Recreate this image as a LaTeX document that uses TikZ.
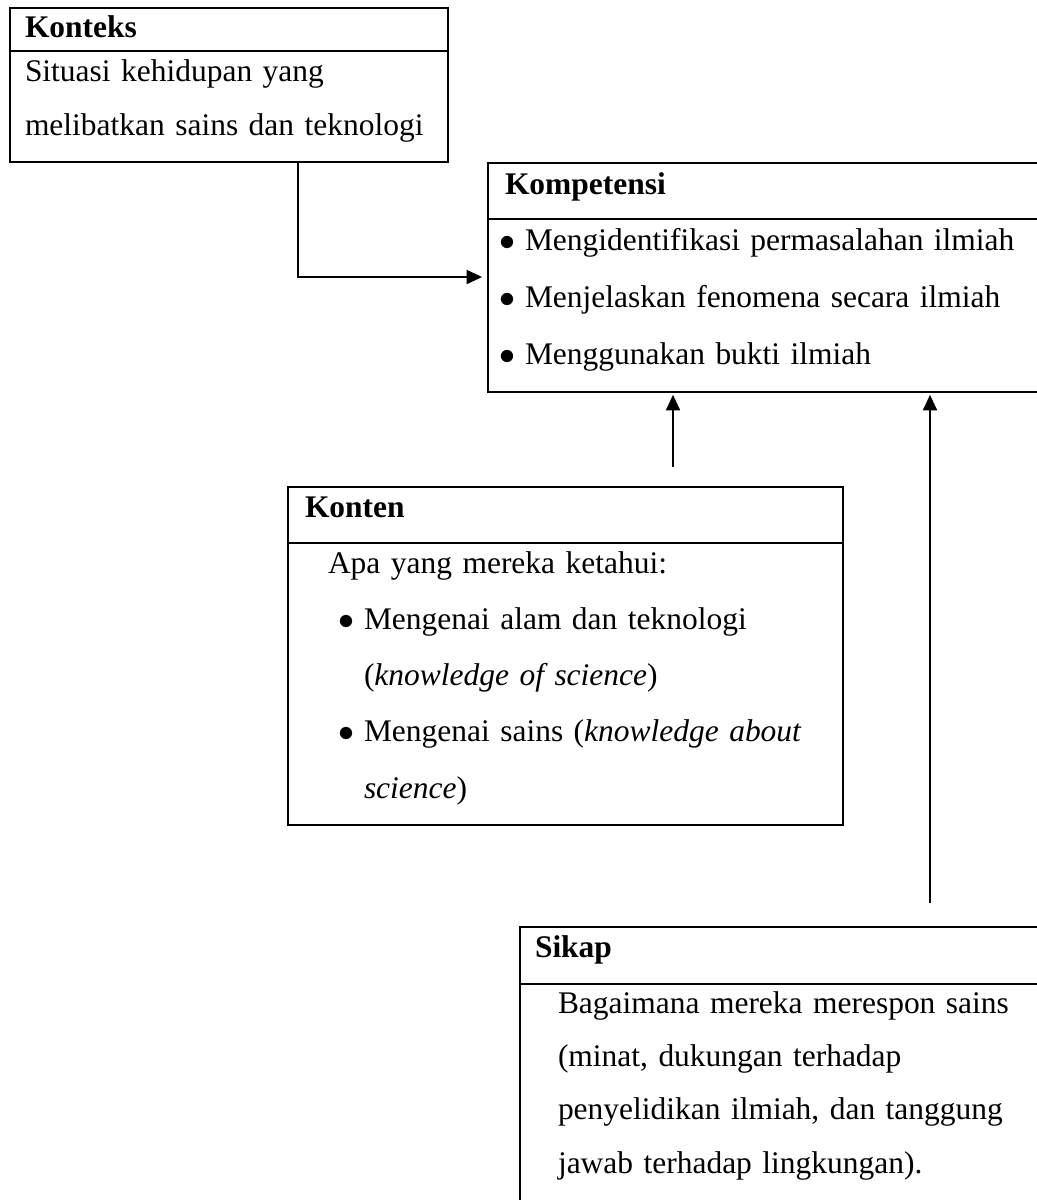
\documentclass[tikz,border=0pt]{standalone}
\usepackage{fontspec}
\setmainfont{Liberation Serif}
\usepackage{tikz}
\usetikzlibrary{positioning,arrows.meta}
\newlength\pxu
\setlength\pxu{0.375pt}
\newcommand{\butir}{\makebox[26\pxu][l]{$\bullet$}}

\begin{document}
\begin{tikzpicture}[x=0.375pt, y=-0.375pt, >={Triangle[length=5.8pt,width=5.2pt]}, line width=0.8pt]
  \tikzstyle{boxhead} = [rectangle, draw, anchor=north west, outer sep=0pt, inner xsep=0pt, inner ysep=0pt, align=left, font=\fontsize{11.8pt}{14pt}\selectfont\bfseries]
  \tikzstyle{boxbody} = [rectangle, draw, outer sep=0pt, inner xsep=0pt, inner ysep=0pt, align=left]

  \useasboundingbox (0,0) rectangle (1036,1200);

  % Konteks
  \node[boxhead, text width=438\pxu, text height=29\pxu, text depth=14\pxu] (konteks) at (10,8) {\hspace*{15\pxu}Konteks};
  \node[boxbody, below=0pt of konteks, text width=438\pxu, font=\fontsize{11.8pt}{20.25pt}\selectfont] (konteksisi)
    {\hspace*{15\pxu}\rule{0pt}{30\pxu}Situasi kehidupan yang\\
     \hspace*{15\pxu}melibatkan sains dan teknologi\rule[-27\pxu]{0pt}{27\pxu}};

  % Kompetensi
  \node[boxhead, text width=600\pxu, text height=31\pxu, text depth=25\pxu] (kompetensi) at (488,163) {\hspace*{17\pxu}Kompetensi};
  \node[boxbody, below=0pt of kompetensi, text width=600\pxu, font=\fontsize{11.8pt}{21.4pt}\selectfont] (kompetensiisi)
    {\hspace*{11\pxu}\rule{0pt}{31\pxu}\butir Mengidentifikasi permasalahan ilmiah\\
     \hspace*{11\pxu}\butir Menjelaskan fenomena secara ilmiah\\
     \hspace*{11\pxu}\butir Menggunakan bukti ilmiah\rule[-28\pxu]{0pt}{28\pxu}};

  % Konten
  \node[boxhead, text width=555\pxu, text height=30\pxu, text depth=26\pxu] (konten) at (288,487) {\hspace*{17\pxu}Konten};
  \node[boxbody, below=0pt of konten, text width=555\pxu, font=\fontsize{11.8pt}{21.1pt}\selectfont] (kontenisi)
    {\hspace*{40\pxu}\rule{0pt}{30\pxu}Apa yang mereka ketahui:\\
     \hspace*{50\pxu}\butir Mengenai alam dan teknologi\\
     \hspace*{76\pxu}(\textit{knowledge of science})\\
     \hspace*{50\pxu}\butir Mengenai sains (\textit{knowledge about}\\
     \hspace*{76\pxu}\textit{science})\rule[-27\pxu]{0pt}{27\pxu}};

  % Sikap
  \node[boxhead, text width=600\pxu, text height=30\pxu, text depth=27\pxu] (sikap) at (520,927) {\hspace*{15\pxu}Sikap};
  \node[boxbody, below=0pt of sikap, text width=600\pxu, font=\fontsize{11.8pt}{20pt}\selectfont] (sikapisi)
    {\hspace*{38\pxu}\rule{0pt}{29\pxu}Bagaimana mereka merespon sains\\
     \hspace*{38\pxu}(minat, dukungan terhadap\\
     \hspace*{38\pxu}penyelidikan ilmiah, dan tanggung\\
     \hspace*{38\pxu}jawab terhadap lingkungan).\rule[-120\pxu]{0pt}{120\pxu}};

  % connectors
  \coordinate (garisawal) at (115,162);
  \coordinate (belok) at (298,277);
  \coordinate (panahkonten) at (673,467);
  \coordinate (panahsikap) at (930,903);
  \draw[->, shorten >=2.2pt] (garisawal) -- (garisawal -| belok) -- (belok) -- (belok -| kompetensiisi.west);
  \draw[->, shorten >=1pt] (panahkonten) -- (panahkonten |- kompetensiisi.south);
  \draw[->, shorten >=1pt] (panahsikap) -- (panahsikap |- kompetensiisi.south);
\end{tikzpicture}
\end{document}
